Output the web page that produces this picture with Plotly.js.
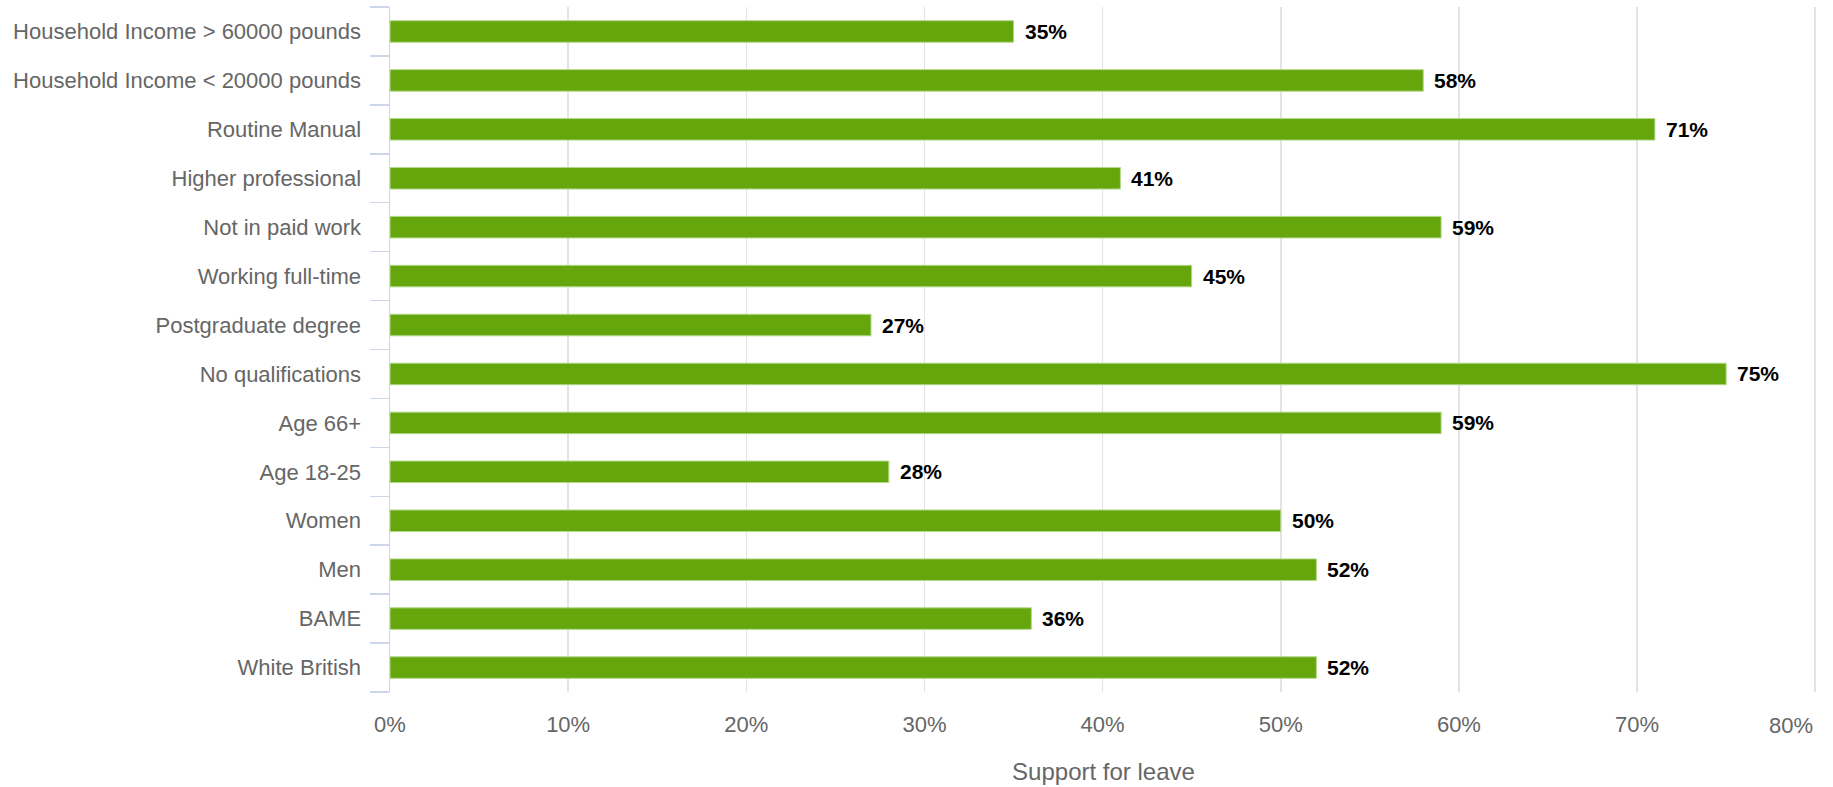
<!DOCTYPE html>
<html>
<head>
<meta charset="utf-8">
<script src="https://cdn.plot.ly/plotly-3.0.1.min.js"></script>
<style>html,body{margin:0;padding:0;background:#fff;}#chart{width:1833px;height:787px;}</style>
</head>
<body>
<div id="chart"></div>
<script>
// Categories listed bottom to top
const categories = [
  "White British", "BAME", "Men", "Women", "Age 18-25", "Age 66+",
  "No qualifications", "Postgraduate degree", "Working full-time",
  "Not in paid work", "Higher professional", "Routine Manual",
  "Household Income < 20000 pounds", "Household Income > 60000 pounds"
];
const supportForLeave = [52, 36, 52, 50, 28, 59, 75, 27, 45, 59, 41, 71, 58, 35];
const xTickValues = [0, 10, 20, 30, 40, 50, 60, 70, 80];
const xTickLabels = ["0%", "10%", "20%", "30%", "40%", "50%", "60%", "70%", "80%"];
const axisTitle = "Support for leave";

const FONT = "'Liberation Sans', Arial, Helvetica, sans-serif";
const lastTick = xTickValues[xTickValues.length - 1];

const trace = {
  type: "bar",
  orientation: "h",
  x: supportForLeave,
  y: categories,
  marker: { color: "#65a60c", line: { color: "#b2d98a", width: 1 } },
  hoverinfo: "x+y"
};

const annotations = supportForLeave.map((v, i) => ({
  x: v, y: categories[i], xref: "x", yref: "y",
  text: v + "%", showarrow: false, xanchor: "left", yanchor: "middle",
  xshift: 9, font: { family: FONT, size: 21, color: "#000000", weight: "bold" }
}));
// last x tick label is justified to the right edge (kept inside the chart)
annotations.push({
  x: lastTick, xref: "x", y: 0, yref: "paper",
  text: xTickLabels[xTickLabels.length - 1], showarrow: false,
  xanchor: "right", yanchor: "middle", yshift: -33, xshift: 0,
  font: { family: FONT, size: 22, color: "#666666" }
});

const layout = {
  width: 1833, height: 787,
  margin: { l: 390, r: 16, t: 7, b: 95, autoexpand: false },
  paper_bgcolor: "#ffffff", plot_bgcolor: "#ffffff",
  bargap: 0.56,
  showlegend: false,
  font: { family: FONT, color: "#666666" },
  xaxis: {
    range: [0, 80.1],
    tickvals: xTickValues, ticktext: xTickLabels.map((t, i) => i === xTickLabels.length - 1 ? "" : t),
    showgrid: true, gridcolor: "#e3e3e3", gridwidth: 1.5,
    zeroline: false, showline: false, ticks: "",
    tickfont: { family: FONT, size: 22, color: "#666666" },
    ticklabelstandoff: 17,
    title: { text: axisTitle, font: { family: FONT, size: 24, color: "#666666" }, standoff: 27 },
    automargin: false, fixedrange: true
  },
  yaxis: {
    type: "category",
    categoryorder: "array", categoryarray: categories,
    showline: true, linecolor: "#ccd6eb", linewidth: 1.5,
    ticks: "outside", tickson: "boundaries", ticklen: 19, tickcolor: "#ccd6eb", tickwidth: 1.5,
    showgrid: false, zeroline: false,
    tickfont: { family: FONT, size: 22, color: "#666666" },
    ticklabelstandoff: 23,
    automargin: false, fixedrange: true
  },
  annotations: annotations
};

Plotly.newPlot("chart", [trace], layout, { displayModeBar: false, staticPlot: true });
</script>
</body>
</html>
